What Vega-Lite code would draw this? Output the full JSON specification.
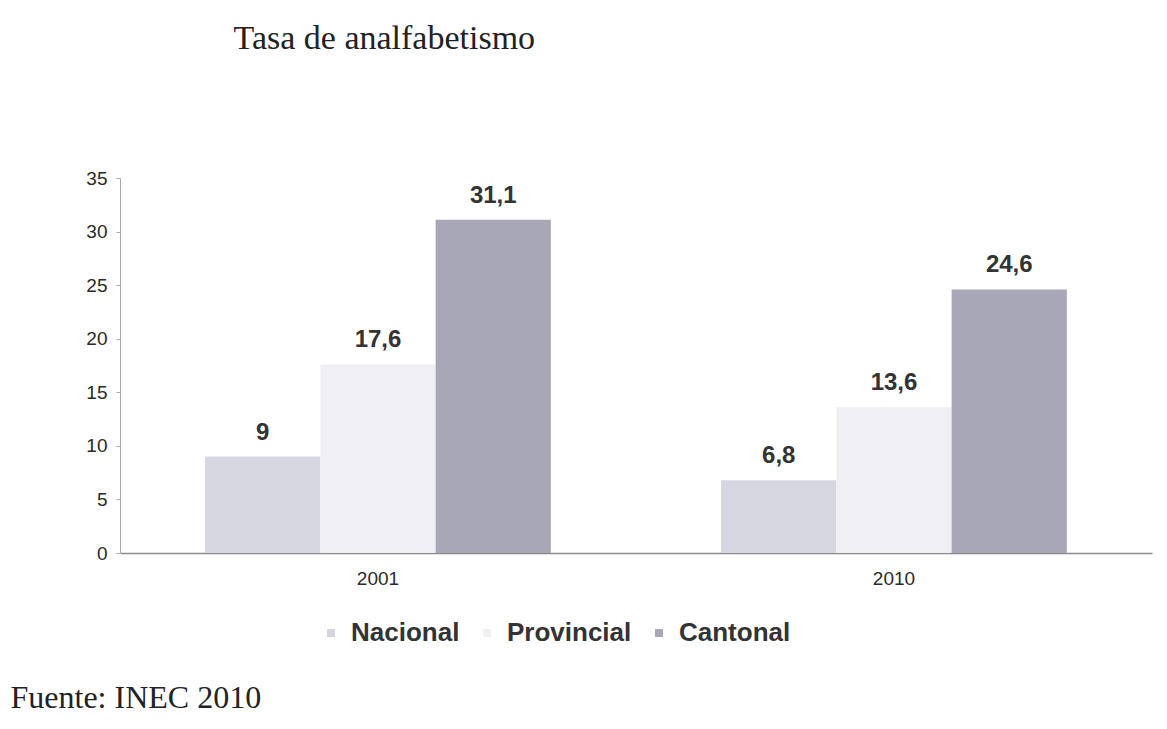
{
  "$schema": "https://vega.github.io/schema/vega-lite/v6.json",
  "autosize": {"type": "none"},
  "width": 1032,
  "height": 375,
  "padding": {"left": 120, "top": 178, "right": 15, "bottom": 176},
  "background": "white",
  "config": {
    "view": {"stroke": null},
    "locale": {"number": {"decimal": ",", "thousands": ".", "grouping": [3], "currency": ["", ""]}}
  },
  "data": {
    "values": [
      {"year": "2001", "nivel": "Nacional", "tasa": 9},
      {"year": "2001", "nivel": "Provincial", "tasa": 17.6},
      {"year": "2001", "nivel": "Cantonal", "tasa": 31.1},
      {"year": "2010", "nivel": "Nacional", "tasa": 6.8},
      {"year": "2010", "nivel": "Provincial", "tasa": 13.6},
      {"year": "2010", "nivel": "Cantonal", "tasa": 24.6}
    ]
  },
  "encoding": {
    "x": {
      "field": "year",
      "type": "nominal",
      "scale": {"paddingInner": 0.33, "paddingOuter": 0.165},
      "axis": {
        "title": "Fuente: INEC 2010",
        "titleFont": "Liberation Serif",
        "titleFontSize": 32,
        "titleFontWeight": "normal",
        "titleColor": "#222222",
        "titleAnchor": "start",
        "titleAlign": "left",
        "titleBaseline": "middle",
        "titleX": -110,
        "titleY": 144,
        "labelAngle": 0,
        "labelFont": "Liberation Sans",
        "labelFontSize": 19,
        "labelColor": "#2a2a2a",
        "labelPadding": 16,
        "ticks": false,
        "domainColor": "#8a8a8a",
        "domainWidth": 1.5
      }
    },
    "xOffset": {"field": "nivel", "type": "nominal", "sort": ["Nacional", "Provincial", "Cantonal"]},
    "y": {
      "field": "tasa",
      "type": "quantitative",
      "scale": {"domain": [0, 35]},
      "axis": {
        "title": "Tasa de analfabetismo",
        "titleFont": "Liberation Serif",
        "titleFontSize": 34,
        "titleFontWeight": "normal",
        "titleColor": "#222222",
        "titleAngle": 0,
        "titleAlign": "left",
        "titleBaseline": "middle",
        "titleX": 113,
        "titleY": -140,
        "values": [0, 5, 10, 15, 20, 25, 30, 35],
        "grid": false,
        "labelFont": "Liberation Sans",
        "labelFontSize": 19,
        "labelColor": "#2a2a2a",
        "labelPadding": 9,
        "tickSize": 4,
        "tickColor": "#aaaaaa",
        "domainColor": "#aaaaaa"
      }
    }
  },
  "layer": [
    {
      "mark": {"type": "bar"},
      "encoding": {
        "color": {
          "field": "nivel",
          "type": "nominal",
          "sort": ["Nacional", "Provincial", "Cantonal"],
          "scale": {"domain": ["Nacional", "Provincial", "Cantonal"], "range": ["#d6d6e1", "#f0f0f4", "#a7a7b7"]},
          "legend": {
            "title": null,
            "orient": "none",
            "direction": "horizontal",
            "legendX": 198,
            "legendY": 442,
            "symbolType": "square",
            "symbolSize": 64,
            "symbolStrokeWidth": 0,
            "labelFont": "Liberation Sans",
            "labelFontSize": 26,
            "labelFontWeight": "bold",
            "labelColor": "#333333",
            "labelOffset": 7,
            "columnPadding": 14
          }
        }
      }
    },
    {
      "mark": {
        "type": "text",
        "baseline": "bottom",
        "dy": -12,
        "font": "Liberation Sans",
        "fontSize": 24,
        "fontWeight": "bold",
        "color": "#333333"
      },
      "encoding": {
        "text": {"field": "tasa", "type": "quantitative", "format": ".3~g"}
      }
    }
  ]
}
